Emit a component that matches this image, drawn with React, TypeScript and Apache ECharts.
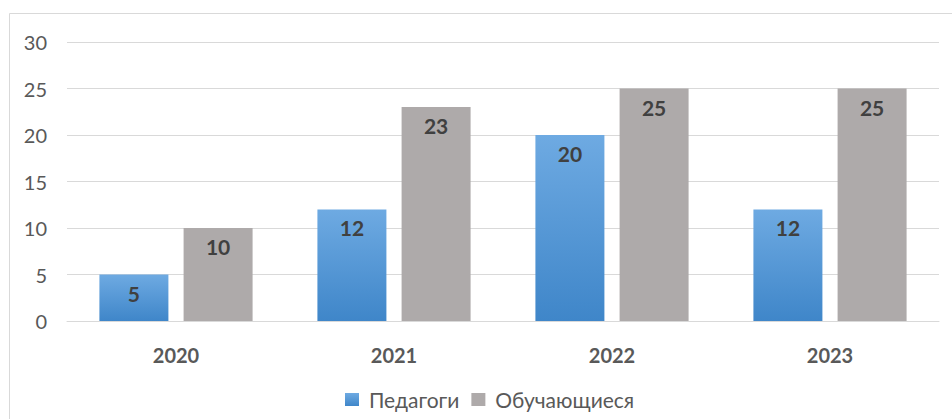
import React, { useEffect, useRef } from "react";
import * as echarts from "echarts";

const categories = ["2020", "2021", "2022", "2023"];
const teachers = [5, 12, 20, 12];
const students = [10, 23, 25, 25];
const seriesNames = ["Педагоги", "Обучающиеся"];

export default function App() {
  const ref = useRef<HTMLDivElement>(null);
  useEffect(() => {
    if (!ref.current) return;
    const chart = echarts.init(ref.current, null, { renderer: "svg" });
    const label = {
      show: true,
      position: "insideTop" as const,
      distance: 8,
      fontFamily: "Lato",
      fontWeight: "bold" as const,
      fontSize: 21,
      color: "#404040",
    };
    chart.setOption({
      animation: false,
      graphic: [
        {
          type: "rect",
          shape: { x: 9.5, y: 13.5, width: 960, height: 420 },
          style: { fill: "none", stroke: "#d9d9d9", lineWidth: 1 },
          silent: true,
        },
      ],
      grid: { left: 67, right: 13, top: 42, bottom: 98 },
      legend: {
        bottom: 9,
        left: 345,
        padding: 0,
        itemWidth: 14,
        itemHeight: 13,
        itemGap: 12,
        icon: "rect",
        textStyle: {
          fontFamily: "Lato",
          fontSize: 21,
          color: "#595959",
          padding: [0, 0, 0, 5],
        },
        data: seriesNames,
      },
      xAxis: {
        type: "category",
        data: categories,
        axisLine: { lineStyle: { color: "#d9d9d9", width: 1 } },
        axisTick: { show: false },
        axisLabel: {
          margin: 24,
          fontFamily: "Lato",
          fontWeight: "bold",
          fontSize: 20,
          color: "#595959",
        },
      },
      yAxis: {
        type: "value",
        min: 0,
        max: 30,
        interval: 5,
        axisLine: { show: false },
        axisTick: { show: false },
        splitLine: { lineStyle: { color: "#d9d9d9", width: 1 } },
        axisLabel: {
          margin: 20,
          fontFamily: "Lato",
          fontSize: 20,
          color: "#595959",
        },
      },
      series: [
        {
          name: seriesNames[0],
          type: "bar",
          data: teachers,
          barWidth: 69,
          barGap: "22%",
          itemStyle: {
            color: new echarts.graphic.LinearGradient(0, 0, 0, 1, [
              { offset: 0, color: "#6eaae2" },
              { offset: 1, color: "#3f86c9" },
            ]),
          },
          label,
        },
        {
          name: seriesNames[1],
          type: "bar",
          data: students,
          barWidth: 69,
          itemStyle: { color: "#aeaaaa" },
          label,
        },
      ],
    });
    return () => chart.dispose();
  }, []);
  return (
    <div
      ref={ref}
      style={{ position: "absolute", left: 0, top: 0, width: 952, height: 419 }}
    />
  );
}
